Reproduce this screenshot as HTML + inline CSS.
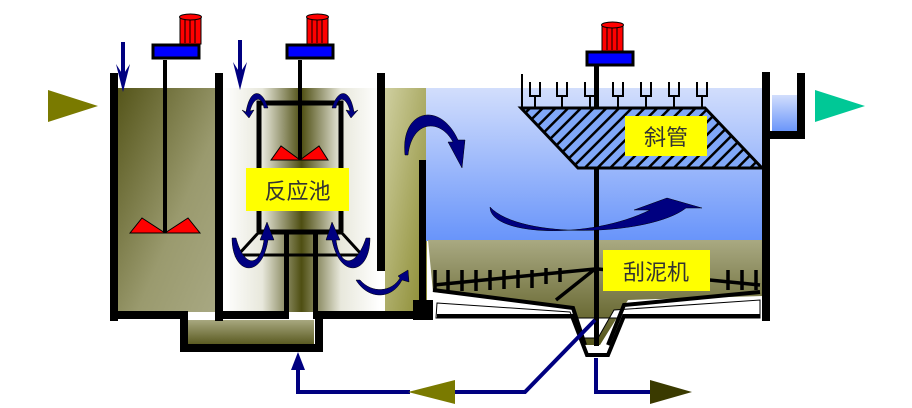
<!DOCTYPE html>
<html><head><meta charset="utf-8"><style>html,body{margin:0;padding:0;background:#fff}svg{display:block}
text{font-family:"Liberation Sans","Noto Sans CJK SC",sans-serif}</style></head><body>
<svg width="912" height="408" viewBox="0 0 912 408" xmlns="http://www.w3.org/2000/svg">
<defs>
<linearGradient id="g1" x1="0" y1="0" x2="1" y2="1"><stop offset="0" stop-color="#55551a"/><stop offset="0.6" stop-color="#9a9a6e"/><stop offset="1" stop-color="#a8a882"/></linearGradient>
<linearGradient id="g2" x1="0" y1="0" x2="1" y2="0"><stop offset="0" stop-color="#ffffff"/><stop offset="0.25" stop-color="#e8e8dc"/><stop offset="0.5" stop-color="#4e4e12"/><stop offset="0.75" stop-color="#e8e8dc"/><stop offset="1" stop-color="#ffffff"/></linearGradient>
<linearGradient id="g3" x1="0" y1="0" x2="1" y2="1"><stop offset="0" stop-color="#cfcfa0"/><stop offset="1" stop-color="#8a8a30"/></linearGradient>
<linearGradient id="gb" x1="0" y1="0" x2="0" y2="1"><stop offset="0" stop-color="#d2defc"/><stop offset="1" stop-color="#6894fa"/></linearGradient>
<linearGradient id="gs" x1="0" y1="0" x2="0" y2="1"><stop offset="0" stop-color="#a9a982"/><stop offset="1" stop-color="#55551a"/></linearGradient>
<linearGradient id="gh" x1="0" y1="0" x2="0" y2="1"><stop offset="0" stop-color="#a8a880"/><stop offset="1" stop-color="#4e4e12"/></linearGradient>
<pattern id="hatch" width="9" height="9" patternUnits="userSpaceOnUse" patternTransform="rotate(45)"><rect width="9" height="9" fill="#80a8f8"/><rect width="2.5" height="9" fill="#000"/></pattern>
</defs>
<rect x="118" y="88" width="97" height="224" fill="url(#g1)"/>
<rect x="223" y="88" width="157" height="224" fill="url(#g2)"/>
<rect x="385" y="88" width="42" height="224" fill="url(#g3)"/>
<rect x="426" y="88" width="337" height="153" fill="url(#gb)"/>
<polygon points="428,240 763,240 763,296 628,300 600,345 585,345 573,307 433,292" fill="url(#gs)"/>
<rect x="186" y="320" width="128" height="28" fill="url(#gh)"/>
<rect x="772" y="95" width="26" height="37" fill="url(#gb)"/>
<polygon points="437,303 570,312 582,338 598,338 614,310 760,300 760,318 436,318" fill="#fff" stroke="#000" stroke-width="1"/>
<g fill="#000">
<rect x="110" y="73" width="8" height="248"/>
<rect x="215" y="73" width="8" height="248"/>
<rect x="377" y="73" width="8" height="198"/>
<rect x="419" y="160" width="7" height="160"/>
<rect x="762" y="72" width="8" height="249"/>
<rect x="797" y="73" width="8" height="66"/>
<rect x="770" y="131" width="35" height="8"/>
<rect x="110" y="311" width="78" height="8"/>
<rect x="180" y="313" width="8" height="38"/>
<rect x="180" y="344" width="143" height="8"/>
<rect x="315" y="313" width="8" height="38"/>
<rect x="215" y="311" width="72" height="8"/>
<rect x="284" y="232" width="5" height="87"/>
<rect x="313" y="232" width="5" height="87"/>
<rect x="315" y="311" width="98" height="8"/>
<rect x="413" y="300" width="20" height="20"/>
</g>
<polyline points="437,316 572,316 587,355 608,355 624,316 760,316" fill="none" stroke="#000" stroke-width="4"/>
<polygon points="48,90 98,106 48,122" fill="#7a7a00"/>
<polygon points="815,90 865,106 815,122" fill="#00c896"/>
<g stroke="#000080" stroke-width="4"><line x1="123" y1="42" x2="123" y2="82"/><line x1="240" y1="40" x2="240" y2="80"/></g>
<polygon points="116,64 123,92 130,64 123,75" fill="#000080"/>
<polygon points="233,62 240,90 247,62 240,73" fill="#000080"/>
<g stroke="#000" stroke-width="3">
<rect x="153" y="45" width="46" height="13" fill="#0000ff"/>
<rect x="287" y="45" width="46" height="13" fill="#0000ff"/>
<rect x="587" y="52" width="46" height="13" fill="#0000ff"/>
</g>
<g fill="#ff0000" stroke="#000" stroke-width="1">
<rect x="180" y="17" width="21" height="27"/><ellipse cx="190.5" cy="17" rx="11" ry="3"/>
<rect x="307" y="17" width="21" height="27"/><ellipse cx="317.5" cy="17" rx="11" ry="3"/>
<rect x="602" y="25" width="21" height="26"/><ellipse cx="612.5" cy="25" rx="11" ry="3"/>
</g>
<g stroke="#000" stroke-width="1"><line x1="185" y1="20" x2="185" y2="43"/><line x1="190" y1="20" x2="190" y2="43"/><line x1="195" y1="20" x2="195" y2="43"/>
<line x1="312" y1="20" x2="312" y2="43"/><line x1="317" y1="20" x2="317" y2="43"/><line x1="322" y1="20" x2="322" y2="43"/>
<line x1="607" y1="28" x2="607" y2="50"/><line x1="612" y1="28" x2="612" y2="50"/><line x1="617" y1="28" x2="617" y2="50"/></g>
<g fill="#000"><rect x="163" y="60" width="4" height="173"/><rect x="298" y="60" width="4" height="100"/><rect x="594" y="66" width="5" height="280"/></g>
<g fill="#ff0000" stroke="#000" stroke-width="1">
<polygon points="130,233 142,218 165,233"/><polygon points="165,233 188,218 200,233"/>
<polygon points="271,160 281,146 300,160"/><polygon points="300,160 319,146 328,160"/>
</g>
<g fill="none" stroke="#000" stroke-width="5">
<polyline points="259,232 259,103 341,103 341,232"/>
<line x1="257" y1="232" x2="343" y2="232"/>
<polygon points="259,232 341,232 362,255 238,255" stroke-width="3"/>
</g>
<rect x="246" y="168" width="103" height="43" fill="#ffff00"/>
<text x="297.5" y="199" font-size="22" text-anchor="middle" fill="#333">反应池</text>
<g fill="#000080" stroke="#000" stroke-width="0.5">
<path d="M268,108 C262,88 250,88 246,112 L242,110 L249,118 L254,110 L250,111 C254,96 262,96 264,108Z"/>
<path d="M332,108 C338,88 350,88 354,112 L358,110 L351,118 L346,110 L350,111 C346,96 338,96 336,108Z"/>
<path d="M232,238 C232,275 262,280 268,240 L274,240 L267,222 L260,240 L264,240 C260,268 244,268 236,238Z"/>
<path d="M370,238 C370,275 340,280 332,240 L326,240 L332,222 L340,240 L336,240 C340,268 356,268 366,238Z"/>
<path d="M356,280 C368,300 392,300 402,280 L409,282 L408,270 L398,276 L400,278 C392,292 372,294 360,280Z"/>
<path d="M405,155 C400,110 440,100 458,140 L465,140 L462,168 L448,142 L453,142 C440,118 412,120 408,155Z"/>
<path d="M490,207 C490,236 590,240 650,210 L634,210 L667,198 L702,208 L686,208 C650,236 520,240 490,207Z"/>
</g>
<polygon points="521,108 705,108 762,168 578,168" fill="url(#hatch)" stroke="#000" stroke-width="3"/>
<g fill="none" stroke="#000" stroke-width="2">
<line x1="522" y1="74" x2="522" y2="108"/>
<line x1="521" y1="108" x2="705" y2="108"/>
<path d="M530,82v14h10v-14M557,82v14h10v-14M585,82v14h10v-14M613,82v14h10v-14M641,82v14h10v-14M669,82v14h10v-14M697,82v14h10v-14"/>
<path d="M535,96v12M562,96v12M590,96v12M618,96v12M646,96v12M674,96v12M702,96v12"/>
</g>
<rect x="625" y="116" width="82" height="40" fill="#ffff00"/>
<text x="666" y="145" font-size="22" text-anchor="middle" fill="#333">斜管</text>
<g stroke="#000" stroke-width="4" fill="none">
<polyline points="433,290 573,308 585,345"/>
<polyline points="760,292 624,305 608,345"/>
</g>
<g stroke="#000" stroke-width="3.5">
<line x1="434" y1="285" x2="595" y2="269"/><line x1="760" y1="285" x2="598" y2="269"/>
<line x1="556" y1="300" x2="595" y2="269"/>
<path d="M435,270v22M448,270v22M462,270v21M476,270v21M490,270v20M504,270v19M518,270v18M532,270v18M546,268v16M560,268v14M728,270v20M742,270v20M756,270v20"/>
</g>
<rect x="603" y="250" width="107" height="41" fill="#ffff00"/>
<text x="656" y="280" font-size="22" text-anchor="middle" fill="#333">刮泥机</text>
<g stroke="#000080" stroke-width="4" fill="none">
<polyline points="298,365 298,392 410,392"/>
<polyline points="455,392 525,392 595,320"/>
<polyline points="596,358 596,392 650,392"/>
</g>
<polygon points="291,370 298,352 305,370" fill="#000080"/>
<polygon points="455,380 455,404 408,392" fill="#7a7a00"/>
<polygon points="650,380 650,404 692,392" fill="#3a3a00"/>
</svg>
</body></html>
